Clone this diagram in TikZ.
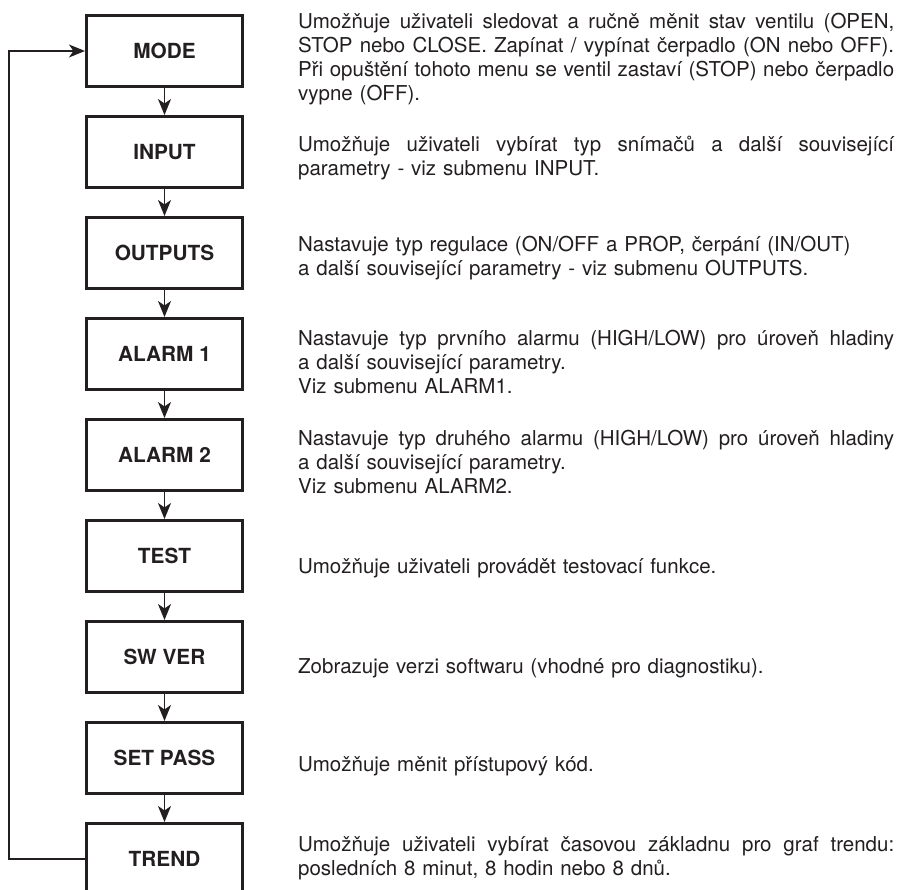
\documentclass[tikz,border=0pt]{standalone}
\usepackage{fontspec}
\setmainfont{TeX Gyre Heros}
\usetikzlibrary{arrows.meta}
\definecolor{ink}{HTML}{231F20}
% one full justified line of a description
\newcommand{\fullline}[1]{\leavevmode\hbox to 596pt{\spaceskip=0.278em plus 1em minus 0.05em\relax #1}}
% first-line strut, fixes the distance from the node top to the first baseline
\newcommand{\topstrut}{\rule{0pt}{19pt}}
\begin{document}
\begin{tikzpicture}[x=1pt,y=-1pt,
  menu/.style={draw=ink, line width=2.6pt, minimum width=156.5pt,
    minimum height=71.4pt, inner sep=0pt, text=ink,
    font=\fontsize{20.8}{24}\selectfont\bfseries},
  flow/.style={draw=ink, line width=1.3pt,
    -{Stealth[length=16pt,width=13pt,inset=4.5pt]}},
  desc/.style={anchor=north west, inner sep=0pt, text width=596pt,
    align=left, text=ink, font=\fontsize{20.5}{24}\selectfont}]
\useasboundingbox (0,0) rectangle (906,890);

% menu chain
\node[menu] (mode)    at (164.5,51)  {MODE};
\node[menu] (input)   at (164.5,152) {INPUT};
\node[menu] (outputs) at (164.5,253) {OUTPUTS};
\node[menu] (alarma)  at (164.5,354) {ALARM 1};
\node[menu] (alarmb)  at (164.5,455) {ALARM 2};
\node[menu] (test)    at (164.5,556) {TEST};
\node[menu] (swver)   at (164.5,657) {SW VER};
\node[menu] (setpass) at (164.5,758) {SET PASS};
\node[menu] (trend)   at (164.5,859) {TREND};

\draw[flow] (mode) -- (input);
\draw[flow] (input) -- (outputs);
\draw[flow] (outputs) -- (alarma);
\draw[flow] (alarma) -- (alarmb);
\draw[flow] (alarmb) -- (test);
\draw[flow] (test) -- (swver);
\draw[flow] (swver) -- (setpass);
\draw[flow] (setpass) -- (trend);

% return path from the last item back to the first
\coordinate (rail) at (9,0);
\draw[flow, line width=1.1pt] (trend.west) -- (trend.west -| rail)
  -- (mode.west -| rail) -- (mode.west);

% descriptions
\node[desc] (dmode) at (298,28-19) {\topstrut\fullline{Umožňuje uživateli sledovat a ručně měnit stav ventilu (OPEN,}\\
\fullline{STOP nebo CLOSE. Zapínat / vypínat čerpadlo (ON nebo OFF).}\\
\fullline{Při opuštění tohoto menu se ventil zastaví (STOP) nebo čerpadlo}\\
vypne (OFF).};

\node[desc] (dinput) at (298,151-19) {\topstrut\fullline{Umožňuje uživateli vybírat typ snímačů a další související}\\
parametry - viz submenu INPUT.};

\node[desc] (doutputs) at (298,251-19) {\topstrut Nastavuje typ regulace (ON/OFF a PROP, čerpání (IN/OUT)\\
a další související parametry - viz submenu OUTPUTS.};

\node[desc] (dalarma) at (298,345-19) {\topstrut\fullline{Nastavuje typ prvního alarmu (HIGH/LOW) pro úroveň hladiny}\\
a další související parametry.\\
Viz submenu ALARM1.};

\node[desc] (dalarmb) at (298,445-19) {\topstrut\fullline{Nastavuje typ druhého alarmu (HIGH/LOW) pro úroveň hladiny}\\
a další související parametry.\\
Viz submenu ALARM2.};

\node[desc] (dtest) at (298,573-19) {\topstrut Umožňuje uživateli provádět testovací funkce.};

\node[desc] (dswver) at (298,673-19) {\topstrut Zobrazuje verzi softwaru (vhodné pro diagnostiku).};

\node[desc] (dsetpass) at (298,771-19) {\topstrut Umožňuje měnit přístupový kód.};

\node[desc] (dtrend) at (298,851-19) {\topstrut\fullline{Umožňuje uživateli vybírat časovou základnu pro graf trendu:}\\
posledních 8 minut, 8 hodin nebo 8 dnů.};
\end{tikzpicture}
\end{document}
